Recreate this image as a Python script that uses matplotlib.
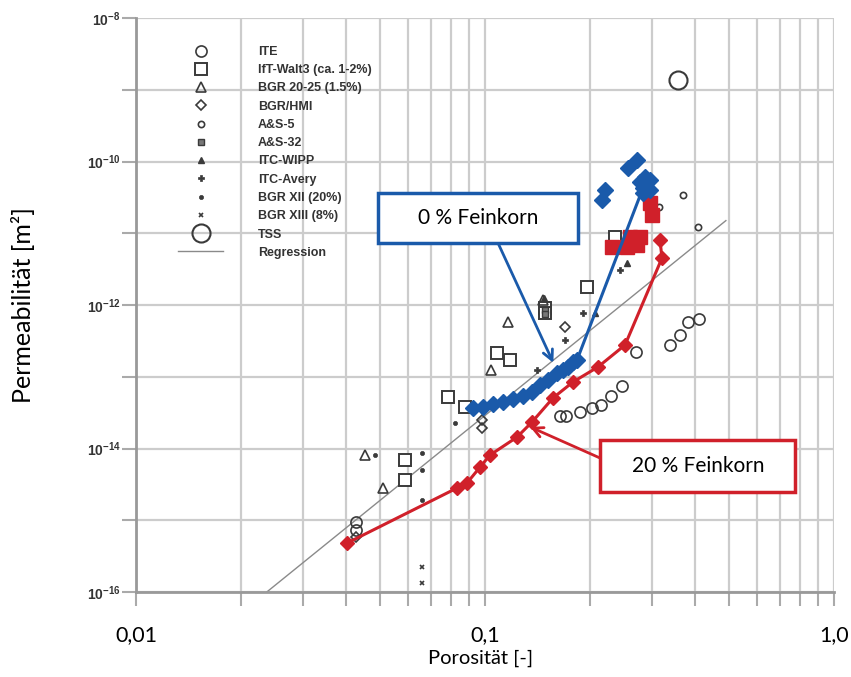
import numpy as np
import matplotlib.pyplot as plt
from matplotlib.lines import Line2D
from matplotlib.patches import Rectangle
from matplotlib.ticker import LogLocator, FuncFormatter, NullFormatter, NullLocator

plt.rcParams['mathtext.fontset'] = 'custom'
plt.rcParams['mathtext.rm'] = 'Liberation Sans:bold'
plt.rcParams['mathtext.bf'] = 'Liberation Sans:bold'
plt.rcParams['mathtext.it'] = 'Liberation Sans:bold'

# --- data (porosity [-], permeability [m^2]) ---
blue_phi = [0.0924, 0.0987, 0.1054, 0.1126, 0.1203, 0.1285, 0.1364, 0.1438,
            0.1516, 0.1608, 0.1673, 0.1729, 0.1787, 0.1835, 0.2836]
blue_k = [3.67e-14, 3.79e-14, 4.17e-14, 4.45e-14, 4.90e-14, 5.40e-14, 6.13e-14, 7.68e-14,
          9.02e-14, 1.13e-13, 1.24e-13, 1.37e-13, 1.61e-13, 1.71e-13, 4.27e-11]
blue_extra_phi = [0.2725, 0.2569, 0.2874, 0.2971, 0.2780, 0.2971, 0.2836, 0.2207, 0.2163]
blue_extra_k = [1.05e-10, 8.11e-11, 6.08e-11, 5.52e-11, 5.18e-11, 4.01e-11, 3.64e-11, 4.0e-11, 2.9e-11]

red_phi = [0.0403, 0.0831, 0.0888, 0.0968, 0.1034, 0.1235, 0.1364, 0.1566,
           0.1787, 0.2108, 0.2519, 0.3215, 0.3172]
red_k = [4.82e-16, 2.81e-15, 3.30e-15, 5.52e-15, 8.11e-15, 1.44e-14, 2.34e-14, 5.06e-14,
         8.45e-14, 1.37e-13, 2.77e-13, 4.52e-12, 8.05e-12]
red_sq_phi = [0.2971, 0.3010, 0.2311, 0.2552, 0.2603, 0.2780, 0.2725]
red_sq_k = [2.64e-11, 1.80e-11, 6.43e-12, 6.43e-12, 8.87e-12, 8.87e-12, 6.86e-12]

ite_phi = [0.0427, 0.0427, 0.1640, 0.1706, 0.1872, 0.2026, 0.2150, 0.2296, 0.2469,
           0.2709, 0.3389, 0.3620, 0.3817, 0.4104]
ite_k = [9.47e-16, 7.31e-16, 2.84e-14, 2.84e-14, 3.23e-14, 3.67e-14, 4.04e-14, 5.40e-14, 7.43e-14,
         2.21e-13, 2.77e-13, 3.82e-13, 5.80e-13, 6.38e-13]
ift_phi = [0.0783, 0.0876, 0.1083, 0.1179, 0.0590, 0.0590, 0.2358, 0.1960, 0.1485, 0.1485]
ift_k = [5.23e-14, 3.79e-14, 2.14e-13, 1.71e-13, 6.92e-15, 3.64e-15, 8.87e-12, 1.78e-12, 9.08e-13, 7.74e-13]
bgr2025_phi = [0.0453, 0.0510, 0.1040, 0.1164, 0.1467]
bgr2025_k = [8.11e-15, 2.81e-15, 1.24e-13, 5.80e-13, 1.17e-12]
hmi_phi = [0.1696, 0.0980, 0.0980, 0.0427]
hmi_k = [4.93e-13, 2.49e-14, 1.93e-14, 5.85e-16]
as5_phi = [0.3693, 0.4076, 0.3152]
as5_k = [3.41e-11, 1.22e-11, 2.32e-11]
as32_phi = [0.1485, 0.1485]
as32_k = [8.51e-13, 7.4e-13]
wipp_phi = [0.2552, 0.1476, 0.2066]
wipp_k = [3.85e-12, 1.25e-12, 7.74e-13]
avery_phi = [0.2436, 0.1909, 0.1696, 0.1409]
avery_k = [3.08e-12, 7.74e-13, 3.25e-13, 1.24e-13]
bgr12_phi = [0.0820, 0.0660, 0.0660, 0.0660, 0.0484]
bgr12_k = [2.26e-14, 8.65e-15, 5.01e-15, 1.91e-15, 8.11e-15]
bgr13_phi = [0.0660, 0.0660]
bgr13_k = [2.23e-16, 1.33e-16]
tss_phi = [0.357]
tss_k = [1.37e-9]
reg_phi = [0.0237, 0.49]
reg_k = [1.0e-16, 1.5e-11]

legend_labels = ['ITE', 'IfT-Walt3 (ca. 1-2%)', 'BGR 20-25 (1.5%)', 'BGR/HMI', 'A&S-5',
                 'A&S-32', 'ITC-WIPP', 'ITC-Avery', 'BGR XII (20%)', 'BGR XIII (8%)',
                 'TSS', 'Regression']

BLUE = '#1a5aaa'
RED = '#d0202a'
SYM = '#3a3a3a'

fig = plt.figure(figsize=(8.51, 6.77), dpi=100)
ax = fig.add_axes([136 / 851, 85 / 677, 698 / 851, 574 / 677])
ax.set_xscale('log')
ax.set_yscale('log')
ax.set_xlim(0.01, 1.0)
ax.set_ylim(1e-16, 1e-8)

# symbol styles, shared by plot and legend
styles = [
    dict(marker='o', ms=8, mfc='none', mec=SYM, mew=1.2),
    dict(marker='s', ms=8, mfc='white', mec=SYM, mew=1.4),
    dict(marker='^', ms=7, mfc='none', mec=SYM, mew=1.2),
    dict(marker='D', ms=5.5, mfc='none', mec=SYM, mew=1.2),
    dict(marker='o', ms=4.5, mfc='none', mec=SYM, mew=1.2),
    dict(marker='s', ms=4.5, mfc='#777777', mec=SYM, mew=1.0),
    dict(marker='^', ms=4.5, mfc=SYM, mec=SYM, mew=1.0),
    dict(marker='P', ms=4.5, mfc=SYM, mec=SYM, mew=0.5),
    dict(marker='o', ms=3, mfc=SYM, mec=SYM, mew=0.5),
    dict(marker='x', ms=3.5, mfc=SYM, mec=SYM, mew=1.2),
    dict(marker='o', ms=13, mfc='none', mec=SYM, mew=1.5),
]
series = [(ite_phi, ite_k), (ift_phi, ift_k), (bgr2025_phi, bgr2025_k), (hmi_phi, hmi_k),
          (as5_phi, as5_k), (as32_phi, as32_k), (wipp_phi, wipp_k), (avery_phi, avery_k),
          (bgr12_phi, bgr12_k), (bgr13_phi, bgr13_k), (tss_phi, tss_k)]

ax.plot(reg_phi, reg_k, color='#8a8a8a', lw=1.0, zorder=2)
for (p, k), st in zip(series, styles):
    ax.plot(p, k, ls='none', zorder=3, **st)

# red: 20 % Feinkorn, blue: 0 % Feinkorn
ax.plot(red_sq_phi, red_sq_k, ls='none', marker='s', ms=10, color=RED, zorder=4)
ax.plot(red_phi, red_k, '-D', color=RED, ms=7.5, lw=2.2, zorder=5)
ax.plot(blue_extra_phi, blue_extra_k, ls='none', marker='D', ms=8, color=BLUE, zorder=5)
ax.plot(blue_phi, blue_k, '-D', color=BLUE, ms=8, lw=2.2, zorder=6)

# axes styling
ax.set_axisbelow(True)
ax.set_xticks([0.01, 0.1, 1.0])
ax.set_xticklabels(['0,01', '0,1', '1,0'], family='Lato')
ax.xaxis.set_minor_locator(LogLocator(base=10, subs=np.arange(2, 10)))
ax.xaxis.set_minor_formatter(NullFormatter())
ax.yaxis.set_major_locator(LogLocator(base=10, numticks=20))
ax.yaxis.set_minor_locator(NullLocator())


def ylab(v, pos):
    e = int(round(np.log10(v)))
    return r'$\mathbf{10^{%d}}$' % e if e % 2 == 0 else ''


ax.yaxis.set_major_formatter(FuncFormatter(ylab))
ax.grid(True, which='major', color='#cccccc', lw=1.6)
ax.grid(True, which='minor', axis='x', color='#cccccc', lw=1.6)
ax.tick_params(axis='x', which='both', length=10, width=1.5, color='#aaaaaa', pad=14, labelsize=15.5)
ax.tick_params(axis='y', which='major', length=10, width=1.5, color='#aaaaaa', pad=1,
               labelsize=10, labelcolor='#333333')
for s in ['top', 'right']:
    ax.spines[s].set_visible(False)
for s in ['left', 'bottom']:
    ax.spines[s].set_color('#999999')
    ax.spines[s].set_linewidth(2)

ax.set_xlabel('Porosität [-]', family='Lato', fontsize=14.5)
ax.set_ylabel('Permeabilität [m²]', family='Lato', fontsize=18)
ax.xaxis.set_label_coords(0.493, -0.100)
ax.yaxis.set_label_coords(-0.145, 0.5)

# legend
handles = [Line2D([], [], ls='none', **st) for st in styles]
handles.append(Line2D([], [], color='#8a8a8a', lw=1.0))
ax.legend(handles, legend_labels, loc='upper left', bbox_to_anchor=(178 / 851, 1 - 46 / 677),
          bbox_transform=fig.transFigure, frameon=False, numpoints=1,
          prop={'family': 'Liberation Sans', 'weight': 'bold', 'size': 9}, labelcolor='#333333',
          handlelength=3.6, handletextpad=2.8, labelspacing=0.5, borderpad=0, borderaxespad=0)

# annotation boxes
fig.add_artist(Rectangle((378 / 851, 1 - 243 / 677), 200 / 851, 50 / 677, transform=fig.transFigure,
                         facecolor='white', edgecolor=BLUE, lw=2.5, zorder=10))
fig.text(478 / 851, 1 - 218 / 677, '0 % Feinkorn', ha='center', va='center', family='Lato',
         fontsize=15, zorder=11)
ax.annotate('', xy=(0.157, 1.56e-13), xycoords='data', xytext=(498, 677 - 243),
            textcoords='figure pixels',
            arrowprops=dict(arrowstyle='->', color=BLUE, lw=2, mutation_scale=18, shrinkA=0, shrinkB=0))

fig.add_artist(Rectangle((600 / 851, 1 - 492 / 677), 195 / 851, 52 / 677, transform=fig.transFigure,
                         facecolor='white', edgecolor=RED, lw=2.5, zorder=10))
fig.text(698 / 851, 1 - 466 / 677, '20 % Feinkorn', ha='center', va='center', family='Lato',
         fontsize=15, zorder=11)
ax.annotate('', xy=(0.1346, 2.0e-14), xycoords='data', xytext=(600, 677 - 458),
            textcoords='figure pixels',
            arrowprops=dict(arrowstyle='->', color=RED, lw=2, mutation_scale=18, shrinkA=0, shrinkB=0))

fig.savefig('out.png', dpi=100)
